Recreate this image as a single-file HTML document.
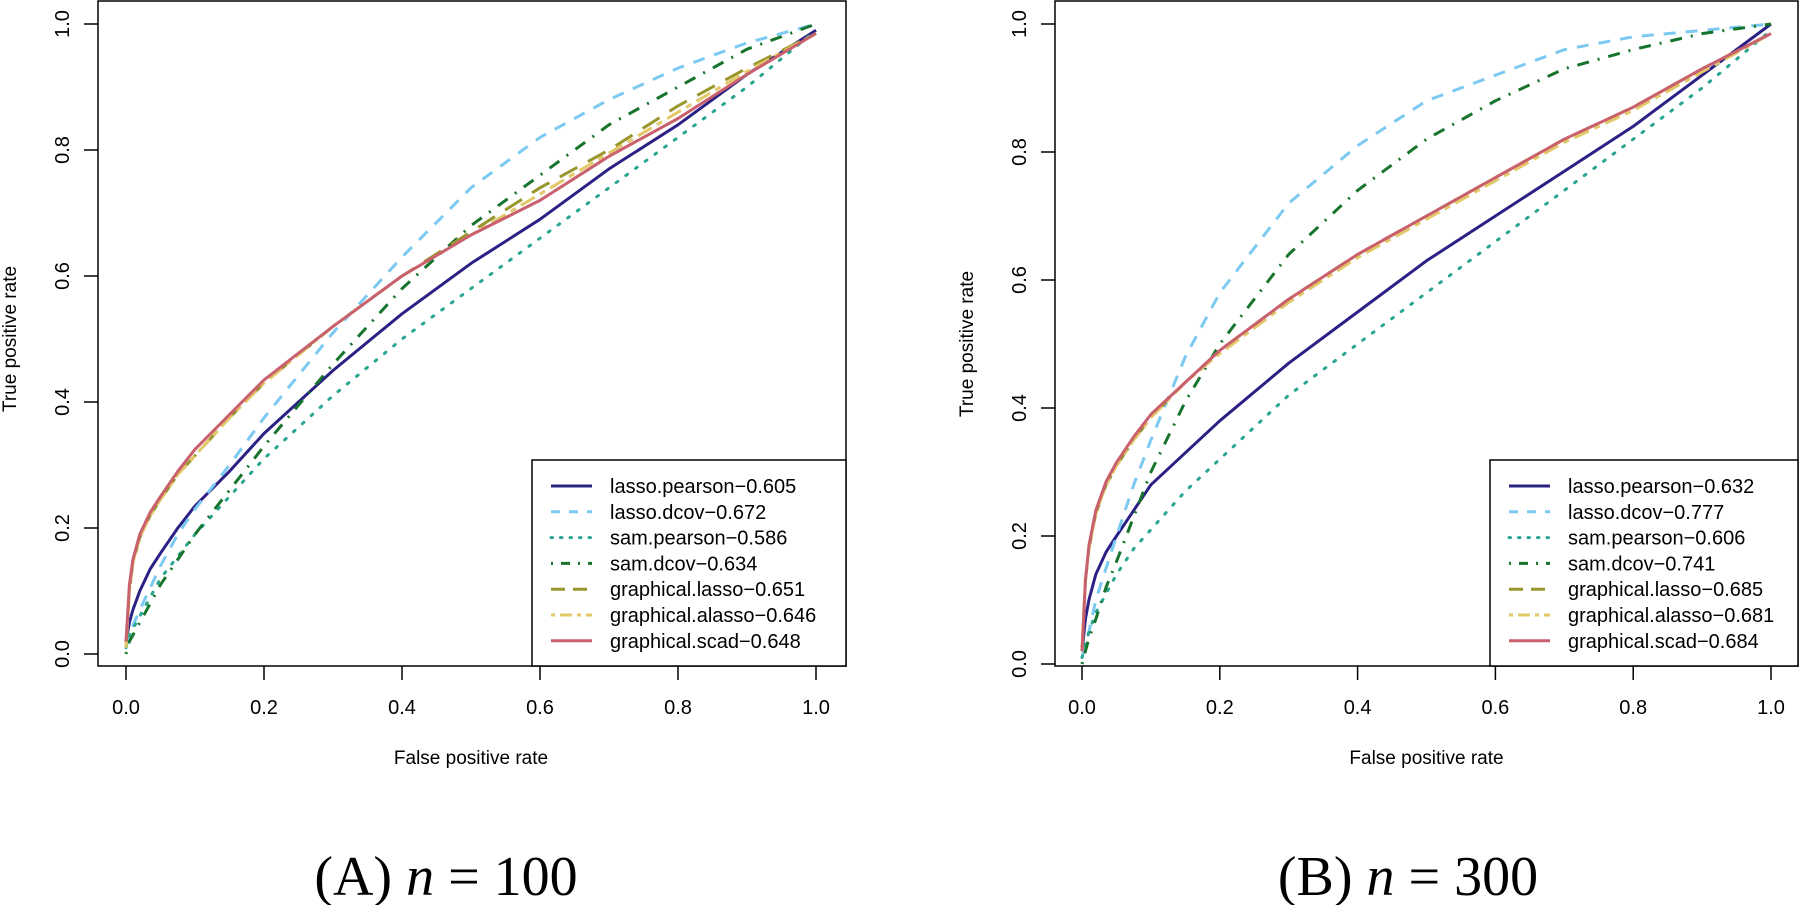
<!DOCTYPE html>
<html><head><meta charset="utf-8"><style>
body{margin:0;background:#fff;}
svg{display:block;font-family:"Liberation Sans",sans-serif;}
</style></head><body>
<svg id="fig" width="1800" height="905">
</svg>
<script>
const fprA = [0,0.005,0.01,0.02,0.035,0.05,0.075,0.1,0.15,0.2,0.3,0.4,0.5,0.6,0.7,0.8,0.9,1];
const lassoPearsonA = [0.02,0.05,0.07,0.1,0.135,0.16,0.2,0.235,0.29,0.35,0.45,0.54,0.62,0.69,0.77,0.84,0.92,0.99];
const lassoDcovA    = [0.01,0.03,0.045,0.07,0.105,0.14,0.19,0.23,0.3,0.375,0.51,0.63,0.74,0.82,0.88,0.93,0.97,1.0];
const samPearsonA   = [0.01,0.03,0.04,0.06,0.09,0.12,0.155,0.19,0.25,0.31,0.41,0.5,0.58,0.66,0.74,0.82,0.9,0.99];
const samDcovA      = [0.0,0.02,0.03,0.05,0.08,0.11,0.15,0.19,0.26,0.33,0.46,0.58,0.68,0.76,0.84,0.9,0.96,1.0];
const gLassoA       = [0.01,0.1,0.145,0.185,0.22,0.245,0.285,0.315,0.375,0.43,0.52,0.6,0.67,0.74,0.8,0.87,0.93,0.985];
const gAlassoA      = [0.01,0.1,0.145,0.185,0.22,0.245,0.285,0.315,0.375,0.43,0.52,0.6,0.665,0.73,0.795,0.86,0.925,0.985];
const gScadA        = [0.02,0.11,0.15,0.19,0.225,0.25,0.29,0.325,0.38,0.435,0.52,0.6,0.665,0.72,0.79,0.85,0.92,0.985];

const fprB = [0,0.005,0.01,0.02,0.035,0.05,0.075,0.1,0.15,0.2,0.3,0.4,0.5,0.6,0.7,0.8,0.9,1];
const lassoPearsonB = [0.02,0.07,0.1,0.14,0.175,0.2,0.24,0.28,0.33,0.38,0.47,0.55,0.63,0.7,0.77,0.84,0.92,1.0];
const lassoDcovB    = [0.01,0.03,0.05,0.1,0.15,0.2,0.28,0.35,0.48,0.58,0.72,0.81,0.88,0.92,0.96,0.98,0.99,1.0];
const samPearsonB   = [0.01,0.03,0.05,0.08,0.11,0.14,0.18,0.21,0.27,0.32,0.42,0.5,0.58,0.66,0.74,0.82,0.9,0.99];
const samDcovB      = [0.0,0.02,0.04,0.07,0.12,0.16,0.23,0.3,0.41,0.5,0.64,0.74,0.82,0.88,0.93,0.96,0.985,1.0];
const gLassoB       = [0.02,0.13,0.18,0.235,0.28,0.31,0.35,0.385,0.44,0.49,0.57,0.64,0.7,0.76,0.82,0.87,0.93,0.985];
const gAlassoB      = [0.02,0.13,0.18,0.235,0.28,0.31,0.35,0.385,0.44,0.485,0.565,0.635,0.695,0.755,0.815,0.865,0.925,0.985];
const gScadB        = [0.02,0.13,0.185,0.24,0.285,0.315,0.355,0.39,0.44,0.49,0.57,0.64,0.7,0.76,0.82,0.87,0.93,0.985];

const tickLabels = ["0.0","0.2","0.4","0.6","0.8","1.0"];
const namesA = ["lasso.pearson-0.605","lasso.dcov-0.672","sam.pearson-0.586","sam.dcov-0.634","graphical.lasso-0.651","graphical.alasso-0.646","graphical.scad-0.648"];
const namesB = ["lasso.pearson-0.632","lasso.dcov-0.777","sam.pearson-0.606","sam.dcov-0.741","graphical.lasso-0.685","graphical.alasso-0.681","graphical.scad-0.684"];

const styles = [
 {c:"#2B2185",d:""},
 {c:"#7CC9F2",d:"12 10"},
 {c:"#2AA590",d:"2 10"},
 {c:"#17742C",d:"2 9 12 9"},
 {c:"#9A962E",d:"20 12"},
 {c:"#E3C868",d:"6 6 16 6"},
 {c:"#C9606E",d:""}
];
const NS="http://www.w3.org/2000/svg";
const svg=document.getElementById('fig');
function mk(tag,attrs,parent){const e=document.createElementNS(NS,tag);for(const k in attrs)e.setAttribute(k,attrs[k]);(parent||svg).appendChild(e);return e;}

function panel(P){
  const g=mk('g',{});
  
  
  const sx=v=>P.x0+(P.x1-P.x0)*v, sy=v=>P.y0+(P.y1-P.y0)*v;
  const box=mk('rect',{x:P.bl,y:1,width:P.br-P.bl,height:666-1,fill:'none',stroke:'#000','stroke-width':1.5},g);
  
  
  tickLabels.forEach((t,i)=>{
    const v=i/5;
    mk('line',{x1:sx(v),x2:sx(v),y1:666,y2:680,stroke:'#000','stroke-width':1.5},g);
    const xt=mk('text',{x:sx(v),y:714,'text-anchor':'middle','font-size':20,fill:'#000'},g);xt.textContent=t;
    
    
    mk('line',{x1:P.bl,x2:P.bl-14,y1:sy(v),y2:sy(v),stroke:'#000','stroke-width':1.5},g);
    const yt=mk('text',{x:0,y:0,'text-anchor':'middle','font-size':20,fill:'#000',transform:`translate(${P.bl-29},${sy(v)}) rotate(-90)`},g);yt.textContent=t;
    
    
  });
  const xl=mk('text',{x:(P.x0+P.x1)/2,y:764,'text-anchor':'middle','font-size':19,fill:'#000'},g);xl.textContent='False positive rate';
  
  
  const yl=mk('text',{x:0,y:0,'text-anchor':'middle','font-size':19,fill:'#000',transform:`translate(${P.bl-82},${(P.y0+P.y1)/2}) rotate(-90)`},g);yl.textContent='True positive rate';
  
  
  P.series.forEach((s,i)=>{
    const pts=P.fpr.map((f,j)=>sx(f).toFixed(1)+','+sy(s[j]).toFixed(1)).join(' ');
    const st=styles[i];
    const pl=mk('polyline',{points:pts,fill:'none',stroke:st.c,'stroke-width':3,'stroke-linejoin':'round','stroke-linecap':st.d==='2 10'?'round':'butt'},g);
    if(st.d)pl.setAttribute('stroke-dasharray',st.d);
    
    
  });
  const lg=mk('g',{},g);
  
  
  mk('rect',{x:P.ll,y:460,width:P.br-P.ll,height:206,fill:'#fff',stroke:'#000','stroke-width':1.5},lg);
  P.names.forEach((n,i)=>{
    const y=486+i*25.8;
    const st=styles[i];
    const ln=mk('line',{x1:P.ll+19,x2:P.ll+60,y1:y,y2:y,stroke:st.c,'stroke-width':3,'stroke-linecap':st.d==='2 10'?'round':'butt'},lg);
    if(st.d)ln.setAttribute('stroke-dasharray',st.d==='20 12'?'14 8':st.d==='6 6 16 6'?'4 5 12 5':st.d==='2 9 12 9'?'2 8 9 8':st.d==='12 10'?'9 9':'1.5 8');
    const tx=mk('text',{x:P.ll+78,y:y+7,'font-size':20,fill:'#000'},lg);tx.textContent=n.replace('-','\u2212');
    
    
  });
  const cap=mk('text',{x:P.cx,y:895,'text-anchor':'middle','font-size':56,fill:'#000','font-family':'Liberation Serif, serif'},g);
  cap.innerHTML=P.cap;
  
  
}
panel({key:'n100',x0:126,x1:816,y0:654,y1:24,bl:98,br:846,ll:532,cx:446,fpr:fprA,
  series:[lassoPearsonA,lassoDcovA,samPearsonA,samDcovA,gLassoA,gAlassoA,gScadA],names:namesA,
  cap:'(A) <tspan font-style="italic">n</tspan> = 100'});
panel({key:'n300',x0:1082,x1:1771,y0:664,y1:24,bl:1055,br:1798,ll:1490,cx:1408,fpr:fprB,
  series:[lassoPearsonB,lassoDcovB,samPearsonB,samDcovB,gLassoB,gAlassoB,gScadB],names:namesB,
  cap:'(B) <tspan font-style="italic">n</tspan> = 300'});
</script>
</body></html>
